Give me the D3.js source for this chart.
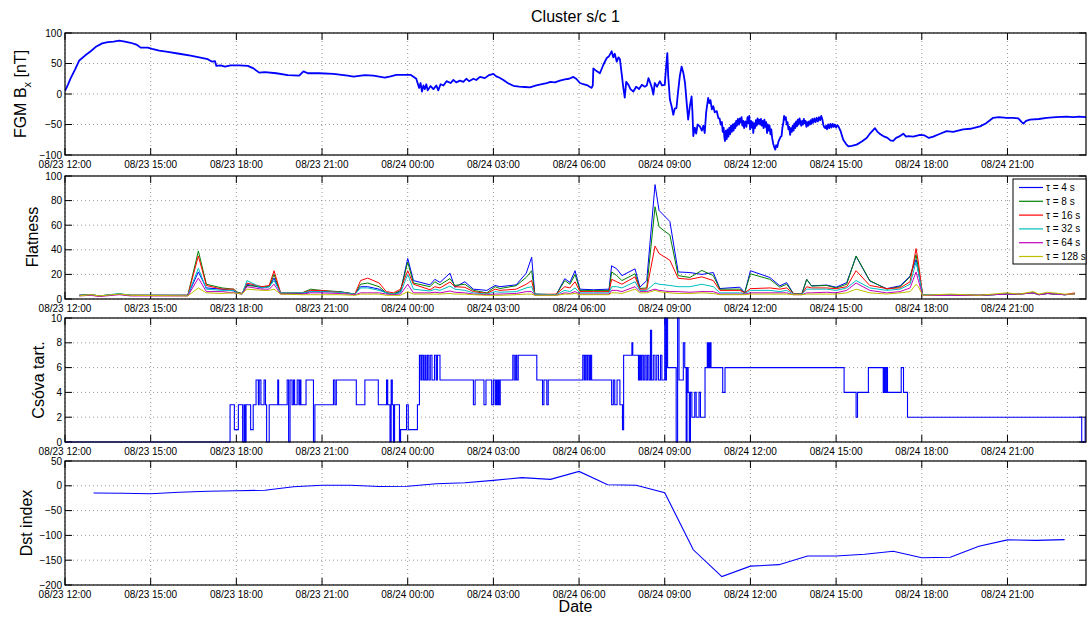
<!DOCTYPE html>
<html>
<head>
<meta charset="utf-8">
<script src="https://cdn.jsdelivr.net/npm/d3@7"></script>
<style>
  body { margin: 0; background: #fff; }
  text { font-family: "Liberation Sans", Arial, sans-serif; fill: #000; }
</style>
</head>
<body>
<div id="chart"></div>
<script>

// ---- data (hours are counted from 08/23 12:00) ----

var xTickHours = [0, 3, 6, 9, 12, 15, 18, 21, 24, 27, 30, 33];
var xTickLabels = ["08/23 12:00", "08/23 15:00", "08/23 18:00", "08/23 21:00",
  "08/24 00:00", "08/24 03:00", "08/24 06:00", "08/24 09:00",
  "08/24 12:00", "08/24 15:00", "08/24 18:00", "08/24 21:00"];

// FGM Bx [nT]
var bxHours = [
  0, 0.1, 0.2, 0.35, 0.5, 0.7, 0.9, 1.1, 1.3, 1.5,
  1.7, 1.9, 2.1, 2.3, 2.5, 2.65, 2.9, 3.05, 3.3, 3.6,
  4.0, 4.4, 4.7, 5.0, 5.15, 5.25, 5.3, 5.45, 5.6, 5.8,
  6.1, 6.4, 6.6, 6.8, 7.0, 7.4, 7.8, 8.2, 8.35, 8.5,
  8.9, 9.4, 9.9, 10.1, 10.5, 10.8, 11.2, 11.4, 11.6, 12.1,
  12.3, 12.4, 12.45, 12.5, 12.55, 12.6, 12.65, 12.7, 12.8, 12.9,
  13.0, 13.07, 13.15, 13.25, 13.36, 13.5, 13.6, 13.7, 13.83, 13.95,
  14.05, 14.15, 14.3, 14.4, 14.53, 14.7, 14.85, 15.0, 15.1, 15.2,
  15.35, 15.5, 15.7, 15.9, 16.1, 16.28, 16.5, 16.7, 16.87, 17.0,
  17.15, 17.33, 17.5, 17.65, 17.8, 17.9, 18.03, 18.15, 18.3, 18.44,
  18.48, 18.5, 18.6, 18.73, 18.85, 18.97, 19.05, 19.14, 19.2, 19.25,
  19.32, 19.38, 19.43, 19.5, 19.55, 19.6, 19.65, 19.73, 19.8, 19.9,
  20.0, 20.1, 20.2, 20.3, 20.37, 20.43, 20.48, 20.55, 20.6, 20.65,
  20.73, 20.83, 20.9, 21.0, 21.04, 21.09, 21.12, 21.18, 21.24, 21.3,
  21.35, 21.41, 21.47, 21.53, 21.59, 21.65, 21.71, 21.76, 21.82, 21.88,
  21.94, 21.97, 22.0, 22.05, 22.1, 22.15, 22.23, 22.3, 22.35, 22.4,
  22.45, 22.52, 22.56, 22.6, 22.65, 22.7, 22.75, 22.82, 22.88, 22.92,
  22.96, 23.0, 23.03, 23.06, 23.09, 23.11, 23.14, 23.17, 23.2, 23.23,
  23.26, 23.29, 23.32, 23.35, 23.38, 23.41, 23.44, 23.47, 23.5, 23.53,
  23.56, 23.6, 23.63, 23.66, 23.69, 23.72, 23.75, 23.78, 23.82, 23.86,
  23.9, 23.93, 23.96, 23.99, 24.02, 24.05, 24.08, 24.1, 24.13, 24.16,
  24.19, 24.22, 24.25, 24.28, 24.31, 24.34, 24.37, 24.4, 24.43, 24.46,
  24.49, 24.52, 24.55, 24.58, 24.61, 24.64, 24.67, 24.7, 24.73, 24.76,
  24.8, 24.84, 24.87, 24.9, 24.94, 24.98, 25.02, 25.06, 25.09, 25.12,
  25.15, 25.18, 25.21, 25.24, 25.27, 25.3, 25.33, 25.36, 25.39, 25.42,
  25.45, 25.48, 25.51, 25.54, 25.57, 25.6, 25.63, 25.66, 25.69, 25.72,
  25.75, 25.78, 25.81, 25.84, 25.87, 25.9, 25.93, 25.96, 25.99, 26.02,
  26.05, 26.08, 26.11, 26.14, 26.17, 26.2, 26.24, 26.28, 26.32, 26.36,
  26.4, 26.44, 26.48, 26.52, 26.55, 26.58, 26.62, 26.65, 26.68, 26.72,
  26.76, 26.8, 26.84, 26.88, 26.92, 26.96, 27.0, 27.04, 27.08, 27.15,
  27.25, 27.35, 27.43, 27.55, 27.72, 27.9, 28.07, 28.2, 28.36, 28.45,
  28.55, 28.65, 28.8, 28.9, 29.0, 29.1, 29.2, 29.35, 29.45, 29.53,
  29.7, 29.94, 30.1, 30.25, 30.4, 30.6, 30.87, 31.1, 31.45, 31.7,
  32.04, 32.25, 32.5, 32.7, 32.97, 33.2, 33.38, 33.5, 33.56, 33.65,
  33.79, 34.1, 34.37, 34.7, 35.07, 35.3, 35.5, 35.75];
var bxValues = [
  5, 15, 26, 40, 55, 63, 70, 78, 83, 85,
  86, 87.5, 86, 84, 81, 76, 76, 74, 71, 69,
  66, 63, 60, 57, 53, 54, 46, 47, 45, 47,
  47, 46, 42, 35, 36, 34, 31, 30, 37, 34,
  34, 33, 30, 28.5, 31, 30, 27, 29, 31.5, 31.5,
  25, 10, 18, 4, 14, 8, 16, 6, 13, 8,
  14, 6, 16, 14, 21, 18, 23, 19, 22, 20,
  25, 21, 25, 23, 28, 26, 31, 33, 29, 27,
  23, 18, 13.5, 12, 11.5, 11, 14, 16, 18, 20,
  19, 22, 24, 25, 28, 25, 18, 16, 14, 10,
  14, 42, 38, 34, 48, 59, 62, 70, 60, 66,
  53, 60, 57, 30, 10, -6, 20, 15, 8, 4,
  12, 8, 15, 12, 14, 26, 20, 10, -1, 18,
  12, 21, 14, 15, 40, 67, 30, -9, -20, -34,
  -24, -23, 5, 30, 45, 35, 18, -10, -42, -20,
  -4, -30, -69, -55, -65, -50, -53, -60, -52, -64,
  -30, -6.5, -15, -10, -25, -20, -30, -28, -40, -40,
  -50, -46, -62, -55, -72, -77, -60, -74, -58, -70,
  -55, -66, -52, -62, -50, -60, -48, -56, -44, -52,
  -41, -50, -40, -47, -38, -52, -44, -56, -45, -54,
  -38, -48, -36, -58, -44, -55, -46, -64, -48, -56,
  -43, -52, -40, -49, -42, -50, -41, -52, -44, -56,
  -42, -54, -46, -64, -50, -60, -52, -66, -58, -72,
  -82, -88, -91, -84, -87, -78, -74, -70, -69, -55,
  -48, -36, -42, -38, -50, -46, -58, -54, -67, -56,
  -62, -52, -60, -48, -56, -45, -53, -42, -50, -40,
  -46, -52, -44, -50, -41, -48, -44, -54, -46, -52,
  -45, -50, -43, -49, -41, -47, -40, -46, -39, -45,
  -38, -43, -36, -42, -50, -54, -56, -52, -58, -50,
  -56, -49, -55, -49, -54, -50, -55, -51, -53, -60,
  -75, -82, -86, -85, -83, -78, -72, -64, -56, -62,
  -66, -69, -72, -76, -77, -72, -70, -65, -70, -69,
  -70, -67, -68, -72, -70, -66, -61, -62, -58, -57,
  -53, -48, -39, -38, -39, -39, -40, -46, -48.5, -44,
  -42, -41, -39, -38, -37, -38, -37, -38];

// Flatness, one array per time scale tau
var flatHours = [0.5, 0.9, 1.2, 1.9, 2.3, 4.3, 4.67, 4.95, 5.5, 5.9, 6.05, 6.2, 6.37, 6.9, 7.15, 7.32, 7.55, 8.3, 8.6, 8.95,
  9.6, 10.15, 10.35, 10.6, 11.0, 11.25, 11.5, 11.75, 12.0, 12.2, 12.78, 12.95, 13.13, 13.48, 13.65, 14.0, 14.3, 14.77, 15.06, 15.23,
  15.8, 16.15, 16.34, 16.45, 17.2, 17.5, 17.68, 17.86, 18.03, 18.5, 19.05, 19.14, 19.32, 19.5, 19.96, 20.13, 20.37, 20.66, 20.8, 21.18,
  21.47, 21.88, 22.3, 22.7, 22.93, 23.63, 23.8, 24.0, 24.68, 25.03, 25.27, 25.5, 25.8, 25.97, 26.14, 26.67, 27.0, 27.37, 27.7, 28.18,
  28.77, 29.24, 29.59, 29.8, 29.88, 30.03, 31.0, 32.0, 32.97, 33.4, 33.9, 34.1, 34.4, 35.0, 35.36];
var flat4 = [3, 3.5, 2.5, 4, 3, 3, 22, 9, 8, 6.5, 5, 4, 12, 9, 10, 17, 5, 4.5, 6, 6,
  6, 4, 10, 10, 8, 5, 4, 6, 33, 15, 11.5, 16, 13.5, 21, 9.6, 14, 8, 7, 11, 10,
  11.5, 21, 34, 4, 3.5, 16.5, 13.5, 23, 8, 7.5, 8, 27, 24.5, 19, 24.5, 9.6, 15, 93, 72, 63,
  22, 21.5, 20, 21.5, 8.5, 9.6, 5, 23, 17.5, 10.7, 13.3, 4.5, 4, 16, 10.7, 11.3, 9.6, 13.3, 34.6, 14.6,
  8.4, 10.7, 18.6, 32, 22, 3.5, 3.5, 3, 4, 4, 5, 3.5, 4.5, 3.5, 4];
var flat8 = [3, 3.5, 2.5, 4, 3, 3, 39, 12, 9, 8, 5.5, 4.5, 11, 10, 10, 20, 4.5, 5, 8, 7,
  6, 4, 12, 13, 10, 5, 4, 7, 30, 13, 10, 14, 11.5, 16.6, 11, 12, 7, 5, 10, 8.5,
  10.8, 17.6, 23, 4, 3.5, 15, 12, 20, 7, 7, 7, 22, 19, 15, 20.5, 8.6, 9, 75, 58.7, 52,
  19, 17.5, 23.2, 19, 8, 8, 5, 20.5, 16, 9.6, 12, 4.5, 4, 16, 10.5, 11, 9, 12, 35, 15,
  8, 10, 18, 36, 25, 3.5, 3.5, 3, 4, 4, 5, 3.5, 4.5, 3.5, 4];
var flat16 = [3, 3.5, 2.5, 4, 3, 3, 35, 11, 8, 8, 5, 4.5, 13, 10, 11, 23, 5, 5, 7, 7,
  5.5, 4, 15, 17, 13, 6, 5, 8, 23, 12, 7.5, 10, 9, 13.8, 10, 9.5, 6, 4.5, 8, 7,
  8, 12, 15, 3.5, 4, 10, 9, 14, 6, 6, 6, 16, 14, 12, 18, 8, 8, 43, 37, 31.5,
  16.8, 16, 18, 15, 7, 7, 5, 8.4, 9, 8, 9, 4.5, 4, 10, 9, 9, 8.4, 10, 23, 11,
  8.5, 9, 14, 41, 30, 3.5, 3.5, 3, 4, 4, 5, 3.5, 4.5, 3.5, 5];
var flat32 = [3, 3.5, 2.5, 4.5, 3, 3, 25, 8, 7, 7, 5, 4, 15, 9, 10, 15, 5, 5, 6, 6,
  5.5, 4, 9, 9, 7, 5, 4, 5, 20, 8, 6.5, 8, 7, 10.5, 8, 7, 5, 4, 6, 5.5,
  6, 9, 10, 3.5, 3.5, 7, 6, 9, 5, 5, 5, 10, 10, 9, 14, 7, 7, 13, 12, 11,
  10, 10, 12, 10, 5, 5, 4.5, 7, 7, 6, 7, 4, 4, 8, 8, 8, 7, 9, 15, 9,
  7, 8, 12, 30, 22, 3.5, 3.5, 3, 4, 4, 5, 3.5, 4.5, 3.5, 4];
var flat64 = [2.5, 3, 2, 3.5, 2.5, 2.5, 17, 6, 6, 5, 4.5, 4, 10, 8, 8, 12, 4, 4, 5, 5,
  4.5, 3.5, 5, 5, 5, 4, 3.5, 4, 12, 5, 5, 5.5, 5, 6.5, 5.5, 5, 4, 3.5, 4, 4,
  4.5, 6, 6, 3, 3, 5, 4.5, 6, 4, 4, 4, 7, 7, 6, 10, 6, 6, 8, 7, 6,
  6, 5.5, 6, 6, 4, 4, 4, 5, 5, 5, 5, 3.5, 3.5, 5, 5, 5.5, 5, 7, 13, 7,
  5, 6, 9, 22, 15, 3, 3, 3, 4, 4, 5, 3.5, 4.5, 3.5, 4];
var flat128 = [2.5, 3.5, 2.5, 4, 3, 2.5, 9, 5, 4.5, 5, 4.5, 4, 8, 7, 7, 8, 4, 3.5, 3.5, 3.5,
  3.5, 3, 4, 4, 4, 3, 3, 3, 6, 4, 4, 4, 4, 4.5, 4, 4, 3.5, 3, 3, 3,
  3.5, 4, 4, 3, 3, 4, 4, 4.5, 3.5, 3.5, 3.5, 5, 5, 4.5, 8, 5, 5, 7, 6, 5,
  4.5, 4.5, 5, 4.5, 3.5, 3.5, 3.5, 4, 4, 4, 4, 3.5, 3.5, 4, 4, 4, 4, 5, 8, 5,
  4, 5, 6, 12, 10, 3, 4, 3, 5, 4, 6, 4, 5.5, 4, 4];
var flatSeries = [flat4, flat8, flat16, flat32, flat64, flat128];
var flatNames = ["\u03c4 = 4 s", "\u03c4 = 8 s", "\u03c4 = 16 s", "\u03c4 = 32 s", "\u03c4 = 64 s", "\u03c4 = 128 s"];
var flatColors = ["#0000ff", "#008000", "#ff0000", "#00bfbf", "#bf00bf", "#bfbf00"];

// Csóva tart. (step values)
var tailHours = [0, 5.78, 5.93, 6.07, 6.22, 6.27, 6.30, 6.34, 6.5, 6.59, 6.69, 6.77, 6.8, 6.86, 6.97, 7.02, 7.06, 7.15, 7.45, 7.48,
  7.78, 7.83, 7.88, 7.95, 8.0, 8.04, 8.13, 8.19, 8.23, 8.26, 8.44, 8.7, 8.75, 9.4, 9.45, 9.5, 10.2, 10.5, 10.97, 11.26,
  11.3, 11.38, 11.42, 11.46, 11.5, 11.54, 11.71, 11.75, 11.96, 12.02, 12.34, 12.41, 12.46, 12.5, 12.55, 12.6, 12.64, 12.69, 12.74, 12.79,
  12.85, 12.94, 13.0, 13.04, 13.13, 14.3, 14.36, 14.67, 14.74, 14.94, 15.0, 15.06, 15.1, 15.13, 15.17, 15.2, 15.24, 15.68, 15.73, 15.78,
  15.82, 15.87, 16.52, 16.72, 16.77, 16.87, 16.92, 18.13, 18.18, 18.22, 18.27, 18.31, 18.36, 18.4, 18.44, 19.14, 19.2, 19.25, 19.33, 19.43,
  19.52, 19.56, 19.85, 19.88, 20.08, 20.12, 20.16, 20.2, 20.25, 20.3, 20.35, 20.4, 20.45, 20.5, 20.54, 20.6, 20.66, 20.72, 20.78, 20.85,
  20.9, 21.0, 21.04, 21.06, 21.1, 21.4, 21.45, 21.5, 21.65, 21.7, 21.75, 21.78, 21.82, 21.86, 21.9, 21.95, 22.05, 22.1, 22.2, 22.25,
  22.41, 22.49, 22.52, 22.55, 22.58, 22.6, 22.62, 23.03, 23.11, 27.28, 27.7, 27.75, 28.13, 28.65, 28.69, 28.72, 28.76, 28.8, 29.28, 29.36,
  29.5, 35.6, 35.72, 35.75];
var tailValues = [0, 3, 1, 3, 0, 3, 0, 3, 1, 3, 5, 3, 5, 3, 5, 3, 0, 3, 5, 3,
  5, 0, 5, 3, 5, 3, 5, 3, 5, 3, 5, 0, 3, 5, 3, 5, 3, 5, 3, 5,
  3, 0, 5, 3, 0, 3, 0, 1, 3, 1, 3, 7, 5, 7, 5, 7, 5, 7, 5, 7,
  5, 7, 5, 7, 5, 3, 5, 3, 5, 3, 5, 3, 5, 3, 5, 3, 5, 7, 5, 7,
  5, 7, 5, 3, 5, 3, 5, 7, 5, 7, 5, 7, 5, 7, 5, 3, 5, 3, 5, 3,
  1, 7, 8, 7, 5, 7, 5, 7, 5, 7, 5, 7, 5, 9, 5, 7, 5, 7, 5, 7,
  5, 10, 5, 10, 6, 0, 10, 5, 8, 6, 0, 6, 4, 0, 4, 2, 4, 2, 4, 2,
  6, 8, 6, 8, 6, 8, 6, 4, 6, 4, 2, 4, 6, 4, 6, 4, 6, 4, 6, 4,
  2, 0, 2, 2];

// Dst index, hourly
var dstHours = [1, 2, 3, 4, 5, 6, 7, 8, 9, 10, 11, 12, 13, 14, 15, 16, 17, 18, 19, 20,
  21, 22, 23, 24, 25, 26, 27, 28, 29, 30, 31, 32, 33, 34, 35];
var dstValues = [-14.5, -15, -16, -13, -11, -10, -9, -2, 1, 1, -1.5, -1, 4, 6, 11, 16.5, 13, 29, 2, 1,
  -14, -129, -183, -162, -159, -141.5, -141.5, -138, -132, -145, -144, -122, -109, -110, -108.5];

// ---- layout ----
var W = 1087, H = 617;
var left = 65, right = 1086;
var t0 = Date.UTC(2003, 7, 23, 12);
function toDate(h) { return new Date(t0 + h * 3600e3); }

var svg = d3.select("#chart").append("svg")
  .attr("width", W).attr("height", H);

var x = d3.scaleUtc()
  .domain([toDate(0), toDate(35.75)])
  .range([left, right]);

var tickLen = 7;
var minus = function (v) { return String(v).replace("-", "\u2212"); };

function panel(id, top, bottom, domain, yTicks) {
  var y = d3.scaleLinear().domain(domain).range([bottom, top]);
  var g = svg.append("g");

  g.append("clipPath").attr("id", id)
    .append("rect").attr("x", left).attr("y", top - 1)
    .attr("width", right - left).attr("height", bottom - top + 2);

  // dotted grid
  xTickHours.forEach(function (h) {
    g.append("line")
      .attr("x1", x(toDate(h))).attr("x2", x(toDate(h)))
      .attr("y1", top).attr("y2", bottom)
      .attr("stroke", "#999").attr("stroke-dasharray", "1,3");
  });
  yTicks.forEach(function (v) {
    g.append("line")
      .attr("x1", left).attr("x2", right)
      .attr("y1", y(v)).attr("y2", y(v))
      .attr("stroke", "#999").attr("stroke-dasharray", "1,3");
  });

  // ticks, inward on all four sides
  xTickHours.forEach(function (h, i) {
    var xx = x(toDate(h));
    g.append("line").attr("x1", xx).attr("x2", xx).attr("y1", bottom).attr("y2", bottom - tickLen).attr("stroke", "#000");
    g.append("line").attr("x1", xx).attr("x2", xx).attr("y1", top).attr("y2", top + tickLen).attr("stroke", "#000");
    g.append("text").attr("x", xx).attr("y", bottom + 13)
      .attr("text-anchor", "middle").attr("font-size", 10)
      .text(xTickLabels[i]);
  });
  yTicks.forEach(function (v) {
    g.append("line").attr("x1", left).attr("x2", left + tickLen).attr("y1", y(v)).attr("y2", y(v)).attr("stroke", "#000");
    g.append("line").attr("x1", right).attr("x2", right - tickLen).attr("y1", y(v)).attr("y2", y(v)).attr("stroke", "#000");
    g.append("text").attr("x", left - 3).attr("y", y(v)).attr("dy", "0.35em")
      .attr("text-anchor", "end").attr("font-size", 10)
      .text(minus(v));
  });

  var plot = g.append("g").attr("clip-path", "url(#" + id + ")");

  // box on top
  g.append("rect").attr("x", left).attr("y", top)
    .attr("width", right - left).attr("height", bottom - top)
    .attr("fill", "none").attr("stroke", "#000").attr("stroke-width", 1.2);

  return { y: y, plot: plot, g: g };
}

// title
svg.append("text").attr("x", (left + right) / 2).attr("y", 22)
  .attr("text-anchor", "middle").attr("font-size", 16)
  .text("Cluster s/c 1");

// Panel 1: FGM Bx
var p1 = panel("c1", 33, 155, [-100, 100], [-100, -50, 0, 50, 100]);
p1.plot.append("path")
  .datum(bxHours)
  .attr("fill", "none").attr("stroke", "#0000ff").attr("stroke-width", 1.8)
  .attr("stroke-linejoin", "round")
  .attr("d", d3.line()
    .x(function (h) { return x(toDate(h)); })
    .y(function (h, i) { return p1.y(bxValues[i]); }));
var lab1 = svg.append("text")
  .attr("transform", "translate(26,94) rotate(-90)")
  .attr("text-anchor", "middle").attr("font-size", 16);
lab1.append("tspan").text("FGM B");
lab1.append("tspan").attr("font-size", 11).attr("dy", 5).text("x");
lab1.append("tspan").attr("dy", -5).text(" [nT]");

// Panel 2: Flatness
var p2 = panel("c2", 176, 299, [0, 100], [0, 20, 40, 60, 80, 100]);
flatSeries.forEach(function (vals, k) {
  p2.plot.append("path")
    .datum(flatHours)
    .attr("fill", "none").attr("stroke", flatColors[k]).attr("stroke-width", 1)
    .attr("d", d3.line()
      .x(function (h) { return x(toDate(h)); })
      .y(function (h, i) { return p2.y(vals[i]); }));
});
svg.append("text")
  .attr("transform", "translate(38,237) rotate(-90)")
  .attr("text-anchor", "middle").attr("font-size", 16)
  .text("Flatness");

// legend
var leg = svg.append("g");
leg.append("rect").attr("x", 1013).attr("y", 179).attr("width", 73).attr("height", 85)
  .attr("fill", "#fff").attr("stroke", "#000");
flatNames.forEach(function (name, k) {
  var yy = 187.5 + k * 13.8;
  leg.append("line").attr("x1", 1019).attr("x2", 1043).attr("y1", yy).attr("y2", yy)
    .attr("stroke", flatColors[k]).attr("stroke-width", 1.2);
  leg.append("text").attr("x", 1046).attr("y", yy).attr("dy", "0.35em")
    .attr("font-size", 10).text(name);
});

// Panel 3: Csóva tart.
var p3 = panel("c3", 318, 442, [0, 10], [0, 2, 4, 6, 8, 10]);
p3.plot.append("path")
  .datum(tailHours)
  .attr("fill", "none").attr("stroke", "#0000ff").attr("stroke-width", 1.1)
  .attr("d", d3.line().curve(d3.curveStepAfter)
    .x(function (h) { return x(toDate(h)); })
    .y(function (h, i) { return p3.y(tailValues[i]); }));
svg.append("text")
  .attr("transform", "translate(44,380) rotate(-90)")
  .attr("text-anchor", "middle").attr("font-size", 16)
  .text("Csóva tart.");

// Panel 4: Dst
var p4 = panel("c4", 461, 585, [-200, 50], [-200, -150, -100, -50, 0, 50]);
p4.plot.append("path")
  .datum(dstHours)
  .attr("fill", "none").attr("stroke", "#0000ff").attr("stroke-width", 1.1)
  .attr("d", d3.line()
    .x(function (h) { return x(toDate(h)); })
    .y(function (h, i) { return p4.y(dstValues[i]); }));
svg.append("text")
  .attr("transform", "translate(32,523) rotate(-90)")
  .attr("text-anchor", "middle").attr("font-size", 16)
  .text("Dst index");

svg.append("text").attr("x", (left + right) / 2).attr("y", 612)
  .attr("text-anchor", "middle").attr("font-size", 16)
  .text("Date");

</script>
</body>
</html>
